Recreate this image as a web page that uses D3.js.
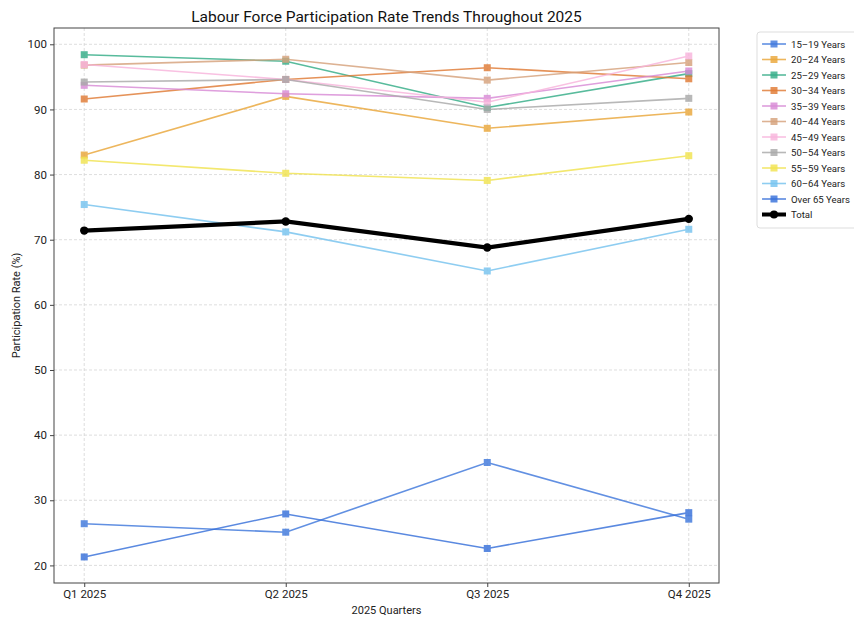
<!DOCTYPE html>
<html>
<head>
<meta charset="utf-8">
<script src="https://cdn.jsdelivr.net/npm/d3@7"></script>
<style>
  body { margin: 0; background: #fff; }
  text { font-family: Roboto, "Open Sans", sans-serif; }
</style>
</head>
<body>
<script>
// data
var quarters = ["Q1 2025", "Q2 2025", "Q3 2025", "Q4 2025"];
var groups = ["15-19 Years", "20-24 Years", "25-29 Years", "30-34 Years", "35-39 Years",
              "40-44 Years", "45-49 Years", "50-54 Years", "55-59 Years", "60-64 Years", "Over 65 Years"];
var rate1519 = [26.4, 25.1, 35.8, 27.1];
var rate2024 = [83.0, 92.0, 87.1, 89.6];
var rate2529 = [98.4, 97.4, 90.3, 95.5];
var rate3034 = [91.6, 94.6, 96.4, 94.7];
var rate3539 = [93.7, 92.4, 91.7, 95.9];
var rate4044 = [96.8, 97.7, 94.5, 97.2];
var rate4549 = [96.9, 94.6, 91.1, 98.2];
var rate5054 = [94.2, 94.6, 90.0, 91.7];
var rate5559 = [82.2, 80.2, 79.1, 82.9];
var rate6064 = [75.4, 71.2, 65.2, 71.6];
var rateOver65 = [21.3, 27.9, 22.6, 28.1];
var rateTotal = [71.4, 72.8, 68.8, 73.2];
var yTicks = [20, 30, 40, 50, 60, 70, 80, 90, 100];

var colors = ["#3f78dc", "#eaa73a", "#34ad87", "#e07b35", "#d88ad6",
              "#d6a27c", "#f8b4dc", "#a9a9a9", "#f1e34f", "#76c3ef", "#3770da"];
var allSeries = [rate1519, rate2024, rate2529, rate3034, rate3539, rate4044,
                 rate4549, rate5054, rate5559, rate6064, rateOver65];

// 1. margin
var margin = {top: 28, right: 135, bottom: 35, left: 54},
    width = 854 - margin.left - margin.right,
    height = 618 - margin.top - margin.bottom;

var svg = d3.select("body").append("svg")
    .attr("width", 854)
    .attr("height", 618);

// 2. scales (matplotlib style 5% padding)
var xScale = d3.scaleLinear().domain([-0.15, 3.15]).range([0, width]);
var yScale = d3.scaleLinear().domain([17.3, 102.5]).range([height, 0]);

var g = svg.append("g")
    .attr("transform", "translate(" + margin.left + "," + margin.top + ")");

// grid
g.selectAll(".hgrid").data(yTicks).enter().append("line")
    .attr("x1", 0).attr("x2", width)
    .attr("y1", function(d) { return yScale(d); })
    .attr("y2", function(d) { return yScale(d); })
    .attr("stroke", "#d6d6d6").attr("stroke-dasharray", "3,2").attr("stroke-width", 0.8);
g.selectAll(".vgrid").data(d3.range(quarters.length)).enter().append("line")
    .attr("y1", 0).attr("y2", height)
    .attr("x1", function(d) { return xScale(d); })
    .attr("x2", function(d) { return xScale(d); })
    .attr("stroke", "#d6d6d6").attr("stroke-dasharray", "3,2").attr("stroke-width", 0.8);

// 3. axes
var xAxis = d3.axisBottom(xScale).tickValues(d3.range(quarters.length))
    .tickFormat(function(i) { return quarters[i]; }).tickSize(4).tickPadding(3);
var yAxis = d3.axisLeft(yScale).tickValues(yTicks).tickSize(4).tickPadding(3);

var gx = g.append("g").attr("transform", "translate(0," + height + ")").call(xAxis);
var gy = g.append("g").call(yAxis);
[gx, gy].forEach(function(a) {
  a.select(".domain").remove();
  a.selectAll("line").attr("stroke", "#444");
  a.selectAll("text").attr("fill", "#222").style("font-size", "11.5px");
});

// frame
g.append("rect").attr("width", width).attr("height", height)
    .attr("fill", "none").attr("stroke", "#444").attr("stroke-width", 1);

// 4. lines
var line = d3.line()
    .x(function(d, i) { return xScale(i); })
    .y(function(d) { return yScale(d); });

allSeries.forEach(function(vals, k) {
  var sg = g.append("g").attr("opacity", 0.82);
  sg.append("path").datum(vals)
      .attr("d", line).attr("fill", "none")
      .attr("stroke", colors[k]).attr("stroke-width", 1.6);
  sg.selectAll("rect").data(vals).enter().append("rect")
      .attr("x", function(d, i) { return xScale(i) - 3.5; })
      .attr("y", function(d) { return yScale(d) - 3.5; })
      .attr("width", 7).attr("height", 7)
      .attr("fill", colors[k]);
});

g.append("path").datum(rateTotal)
    .attr("d", line).attr("fill", "none")
    .attr("stroke", "#000").attr("stroke-width", 4.2);
g.selectAll(".totdot").data(rateTotal).enter().append("circle")
    .attr("cx", function(d, i) { return xScale(i); })
    .attr("cy", function(d) { return yScale(d); })
    .attr("r", 4.2).attr("fill", "#000");

// titles
svg.append("text")
    .attr("x", margin.left + width / 2).attr("y", 22)
    .attr("text-anchor", "middle")
    .style("font-size", "15.5px").attr("fill", "#111")
    .text("Labour Force Participation Rate Trends Throughout 2025");
svg.append("text")
    .attr("x", margin.left + width / 2).attr("y", 614)
    .attr("text-anchor", "middle")
    .style("font-size", "11px").attr("fill", "#222")
    .text("2025 Quarters");
svg.append("text")
    .attr("transform", "translate(20," + (margin.top + height / 2) + ") rotate(-90)")
    .attr("text-anchor", "middle")
    .style("font-size", "11px").attr("fill", "#222")
    .text("Participation Rate (%)");

// legend
var leg = svg.append("g").attr("transform", "translate(757,32)");
leg.append("rect").attr("width", 110).attr("height", 196).attr("rx", 3)
    .attr("fill", "#fff").attr("stroke", "#ddd");
var legNames = groups.concat(["Total"]);
var legColors = colors.concat(["#000"]);
legNames.forEach(function(name, k) {
  var yy = 12 + k * 15.5;
  var isTot = name === "Total";
  leg.append("line").attr("x1", 5).attr("x2", 29).attr("y1", yy).attr("y2", yy)
      .attr("stroke", legColors[k]).attr("stroke-width", isTot ? 4 : 1.6)
      .attr("opacity", isTot ? 1 : 0.82);
  if (isTot) {
    leg.append("circle").attr("cx", 17).attr("cy", yy).attr("r", 4).attr("fill", "#000");
  } else {
    leg.append("rect").attr("x", 13.5).attr("y", yy - 3.5).attr("width", 7).attr("height", 7)
        .attr("fill", legColors[k]).attr("opacity", 0.82);
  }
  leg.append("text").attr("x", 34).attr("y", yy + 3.5)
      .style("font-size", "9.6px").attr("fill", "#222").text(name.replace("-", "\u2013"));
});
</script>
</body>
</html>
